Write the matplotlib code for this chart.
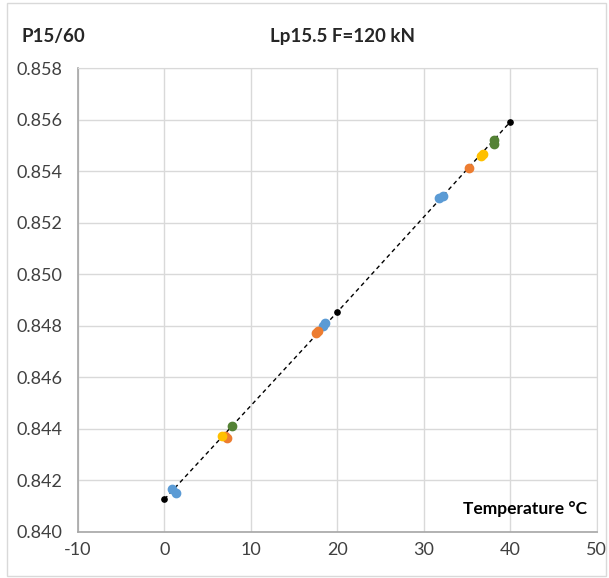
import matplotlib.pyplot as plt
from matplotlib.patches import Rectangle

# ── Data ───────────────────────────────────────────────────────────────────────
ref_temp = [0, 20, 40]
ref_p = [0.84127, 0.84854, 0.85592]

blue_temp = [0.9, 1.3, 18.3, 18.6, 31.8, 32.2]
blue_p = [0.84165, 0.84150, 0.84800, 0.84810, 0.85295, 0.85305]

orange_temp = [7.0, 7.2, 17.5, 17.8, 35.2]
orange_p = [0.84372, 0.84366, 0.84772, 0.84780, 0.85412]

yellow_temp = [6.7, 36.6, 36.8]
yellow_p = [0.84371, 0.85458, 0.85468]

green_temp = [7.8, 38.1, 38.1]
green_p = [0.84412, 0.85505, 0.85522]

x_ticks = [-10, 0, 10, 20, 30, 40, 50]
y_ticks = [0.840, 0.842, 0.844, 0.846, 0.848, 0.850, 0.852, 0.854, 0.856, 0.858]

plt.rcParams["font.family"] = ["Lato", "DejaVu Sans"]
plt.rcParams["axes.unicode_minus"] = False

fig = plt.figure(figsize=(6.09, 5.78), dpi=100)
ax = fig.add_axes([0.128, 0.0796, 0.852, 0.8024])

# chart-area border
fig.patches.append(Rectangle((0.011, 0.004), 0.984, 0.99, transform=fig.transFigure,
                             fill=False, edgecolor="#d9d9d9", linewidth=1))

ax.plot(ref_temp, ref_p, "--", color="black", linewidth=1, dashes=(3, 2.5),
        marker="o", markersize=3.8, zorder=3)
ax.plot(blue_temp, blue_p, "o", color="#5B9BD5", markersize=6, zorder=4)
ax.plot(orange_temp, orange_p, "o", color="#ED7D31", markersize=6, zorder=4)
ax.plot(yellow_temp, yellow_p, "o", color="#FFC000", markersize=6, zorder=4)
ax.plot(green_temp, green_p, "o", color="#548235", markersize=6, zorder=4)

ax.set_xlim(-10, 50)
ax.set_ylim(0.840, 0.858)
ax.set_xticks(x_ticks)
ax.set_yticks(y_ticks)
ax.set_yticklabels([f"{v:.3f}" for v in y_ticks])
ax.tick_params(length=0, labelsize=13, colors="#404040")
ax.tick_params(axis="y", pad=11)
ax.tick_params(axis="x", pad=7)
ax.grid(True, color="#d9d9d9", linewidth=1, zorder=0)
ax.set_axisbelow(True)

for side in ["top", "right"]:
    ax.spines[side].set_color("#d9d9d9")
for side in ["left", "bottom"]:
    ax.spines[side].set_color("#a6a6a6")
    ax.spines[side].set_linewidth(1.2)

fig.text(0.035, 0.937, "P15/60", fontsize=13.5, fontweight="bold", color="#262626",
         ha="left", va="center")
fig.text(0.563, 0.937, "Lp15.5 F=120 kN", fontsize=13.5, fontweight="bold", color="#262626",
         ha="center", va="center")
ax.text(0.982, 0.05, "Temperature °C", transform=ax.transAxes, fontsize=12.5,
        fontweight="bold", color="black", ha="right", va="center")

fig.savefig("out.png", dpi=100)
